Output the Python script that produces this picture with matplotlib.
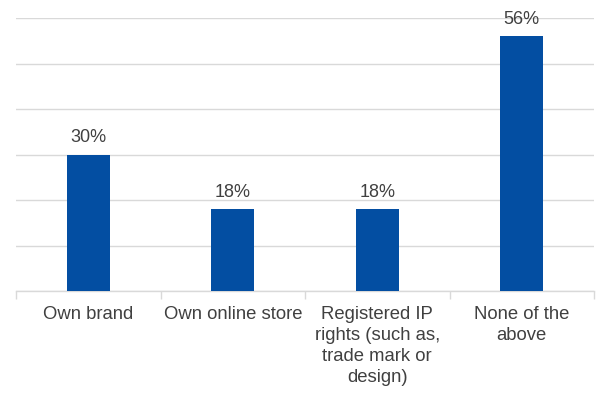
import numpy as np
import matplotlib.pyplot as plt

# Chart data
categories = ['Own brand', 'Own online store',
              'Registered IP\nrights (such as,\ntrade mark or\ndesign)',
              'None of the\nabove']
values = [30, 18, 18, 56]

bar_color = '#034EA2'
text_color = '#404040'
grid_color = '#D9D9D9'

plt.rcParams['font.family'] = ['Liberation Sans', 'DejaVu Sans']

fig = plt.figure(figsize=(6.05, 3.96), dpi=100)
ax = fig.add_axes([16 / 605, 105 / 396, 578 / 605, 273 / 396])

x = np.arange(len(categories))
bars = ax.bar(x, values, width=0.3, color=bar_color, zorder=3)

for rect, v in zip(bars, values):
    ax.annotate(f'{v}%', (rect.get_x() + rect.get_width() / 2, v),
                xytext=(0, 6), textcoords='offset points',
                ha='center', va='bottom', fontsize=13, color=text_color)

ax.set_xlim(-0.5, len(categories) - 0.5)
ax.set_ylim(0, 60)
ax.set_yticks(np.arange(0, 61, 10))
ax.yaxis.grid(True, color=grid_color, linewidth=1, zorder=0)
ax.tick_params(axis='y', left=False, labelleft=False)

ax.set_xticks(x)
ax.set_xticklabels(categories, fontsize=13.3, color=text_color, linespacing=1.3)
ax.tick_params(axis='x', length=0, pad=11)
ax.set_xticks(np.arange(-0.5, len(categories)), minor=True)
ax.tick_params(axis='x', which='minor', length=6, color=grid_color, width=1)

for s in ['top', 'right', 'left']:
    ax.spines[s].set_visible(False)
ax.spines['bottom'].set_color(grid_color)
ax.spines['bottom'].set_linewidth(1)

fig.savefig('out.png', dpi=100)
